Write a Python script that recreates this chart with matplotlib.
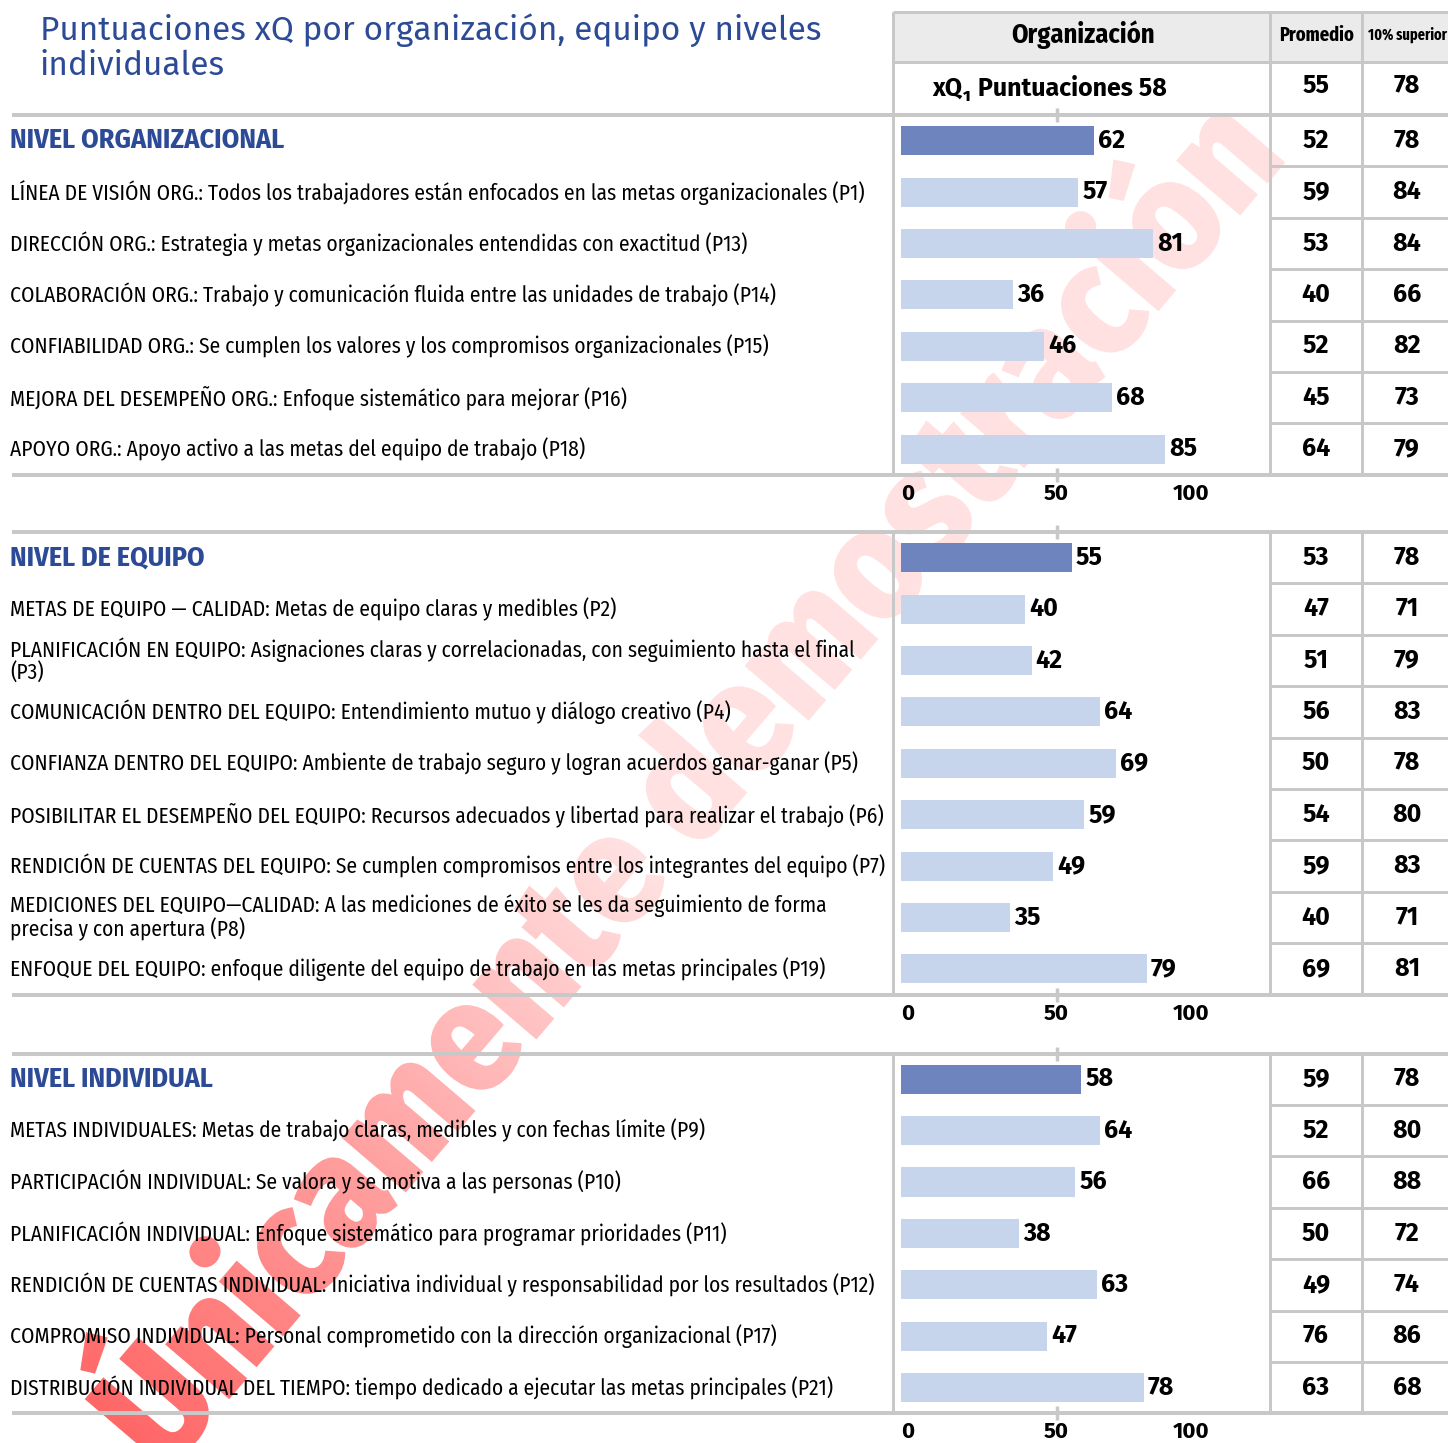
import numpy as np
import matplotlib
matplotlib.use("Agg")
import matplotlib.pyplot as plt
from matplotlib import font_manager as fm
from matplotlib.textpath import TextPath
from matplotlib.patches import PathPatch
from matplotlib.transforms import Affine2D

W, H = 1448, 1443

# ---- data ----
title = "Puntuaciones xQ por organización, equipo y niveles\nindividuales"
header_org = "Organización"
header_avg = "Promedio"
header_top = "10% superior"
overall_label = "xQ\u2081 Puntuaciones 58"
overall_avg = 55
overall_top = 78

org_labels = [
    "NIVEL ORGANIZACIONAL",
    "LÍNEA DE VISIÓN ORG.: Todos los trabajadores están enfocados en las metas organizacionales (P1)",
    "DIRECCIÓN ORG.: Estrategia y metas organizacionales entendidas con exactitud (P13)",
    "COLABORACIÓN ORG.: Trabajo y comunicación fluida entre las unidades de trabajo (P14)",
    "CONFIABILIDAD ORG.: Se cumplen los valores y los compromisos organizacionales (P15)",
    "MEJORA DEL DESEMPEÑO ORG.: Enfoque sistemático para mejorar (P16)",
    "APOYO ORG.: Apoyo activo a las metas del equipo de trabajo (P18)",
]
org_scores = [62, 57, 81, 36, 46, 68, 85]
org_avg = [52, 59, 53, 40, 52, 45, 64]
org_top = [78, 84, 84, 66, 82, 73, 79]

team_labels = [
    "NIVEL DE EQUIPO",
    "METAS DE EQUIPO — CALIDAD: Metas de equipo claras y medibles (P2)",
    "PLANIFICACIÓN EN EQUIPO: Asignaciones claras y correlacionadas, con seguimiento hasta el final\n(P3)",
    "COMUNICACIÓN DENTRO DEL EQUIPO: Entendimiento mutuo y diálogo creativo (P4)",
    "CONFIANZA DENTRO DEL EQUIPO: Ambiente de trabajo seguro y logran acuerdos ganar-ganar (P5)",
    "POSIBILITAR EL DESEMPEÑO DEL EQUIPO: Recursos adecuados y libertad para realizar el trabajo (P6)",
    "RENDICIÓN DE CUENTAS DEL EQUIPO: Se cumplen compromisos entre los integrantes del equipo (P7)",
    "MEDICIONES DEL EQUIPO—CALIDAD: A las mediciones de éxito se les da seguimiento de forma\nprecisa y con apertura (P8)",
    "ENFOQUE DEL EQUIPO: enfoque diligente del equipo de trabajo en las metas principales (P19)",
]
team_scores = [55, 40, 42, 64, 69, 59, 49, 35, 79]
team_avg = [53, 47, 51, 56, 50, 54, 59, 40, 69]
team_top = [78, 71, 79, 83, 78, 80, 83, 71, 81]

ind_labels = [
    "NIVEL INDIVIDUAL",
    "METAS INDIVIDUALES: Metas de trabajo claras, medibles y con fechas límite (P9)",
    "PARTICIPACIÓN INDIVIDUAL: Se valora y se motiva a las personas (P10)",
    "PLANIFICACIÓN INDIVIDUAL: Enfoque sistemático para programar prioridades (P11)",
    "RENDICIÓN DE CUENTAS INDIVIDUAL: Iniciativa individual y responsabilidad por los resultados (P12)",
    "COMPROMISO INDIVIDUAL: Personal comprometido con la dirección organizacional (P17)",
    "DISTRIBUCIÓN INDIVIDUAL DEL TIEMPO: tiempo dedicado a ejecutar las metas principales (P21)",
]
ind_scores = [58, 64, 56, 38, 63, 47, 78]
ind_avg = [59, 52, 66, 50, 49, 76, 63]
ind_top = [78, 80, 88, 72, 74, 86, 68]

axis_ticks = [0, 50, 100]
watermark = "Únicamente demostración"

# ---- style ----
BLUE_TXT = "#2c4a96"
DARK_BAR = "#6e84bf"
LIGHT_BAR = "#c6d5ec"
GRID = "#c8c8c8"
HEAD_BG = "#ebebeb"

avail = {f.name for f in fm.fontManager.ttflist}


def pick(cands):
    for c in cands:
        if c in avail:
            return c
    return "DejaVu Sans"


BODY = pick(["Fira Sans Condensed", "Archivo Narrow", "Roboto Condensed", "Liberation Sans Narrow"])
XCOND = pick(["Fira Sans Extra Condensed", "Barlow Condensed", "Roboto Condensed", "Archivo Narrow"])
MAIN = pick(["Fira Sans", "Open Sans", "Noto Sans"])

px = 72 / 100  # points per pixel

fig = plt.figure(figsize=(W / 100, H / 100), dpi=100)
bg = fig.add_axes([0, 0, 1, 1])
bg.axis("off")

# watermark: text outline filled with a red fade, behind everything
tp = TextPath((0, 0), watermark, size=100, prop=fm.FontProperties(family=BODY, weight="heavy"))
ext = tp.get_extents()
wm_len, wm_ang, wm_c = 1720, 49.5, (670, 768)
k = wm_len / ext.width
tr = (Affine2D().translate(-(ext.x0 + ext.x1) / 2, -(ext.y0 + ext.y1) / 2)
      .scale(k, -k).rotate_deg(-wm_ang).translate(*wm_c))
patch = PathPatch(tr.transform_path(tp), facecolor="none", edgecolor="none",
                  transform=bg.transData)
bg.add_patch(patch)
gx, gy = np.meshgrid(np.linspace(0, W, 362), np.linspace(0, H, 361))
ux, uy = np.cos(np.radians(wm_ang)), -np.sin(np.radians(wm_ang))
t = ((gx - wm_c[0]) * ux + (gy - wm_c[1]) * uy) / wm_len + 0.5
rgba = np.zeros(gx.shape + (4,))
rgba[..., 0] = 1.0
rgba[..., 3] = 0.6 - 0.48 * np.clip(t / 0.45, 0, 1)
im = bg.imshow(rgba, extent=[0, W, H, 0], origin="upper", aspect="auto",
               interpolation="bilinear", zorder=0.5)
im.set_clip_path(patch)
bg.set_xlim(0, W)
bg.set_ylim(H, 0)

bg.text(40, 47, title, ha="left", va="center", fontsize=24, color=BLUE_TXT,
        linespacing=1.1, family=MAIN)

# header block
bg.fill_between([893, 1448], 12, 62, color=HEAD_BG, zorder=1)
lw = 3 * px
bg.hlines([12, 62], 893, 1448, color=GRID, lw=lw, zorder=2)
bg.vlines([893, 1270, 1362], 12, 115, color=GRID, lw=lw, zorder=2)
bg.text(1083, 35, header_org, ha="center", va="center", fontsize=19, fontweight="bold", family=BODY)
bg.text(1317, 35, header_avg, ha="center", va="center", fontsize=14.5, fontweight="bold", family=XCOND)
bg.text(1407, 35, header_top, ha="center", va="center", fontsize=11.2, fontweight="bold", family=XCOND)
bg.text(1050, 88, overall_label, ha="center", va="center", fontsize=18, fontweight="bold", family=MAIN)
bg.text(1316, 86, str(overall_avg), ha="center", va="center", fontsize=18, fontweight="bold", family=MAIN)
bg.text(1407, 86, str(overall_top), ha="center", va="center", fontsize=18, fontweight="bold", family=MAIN)

pitch = 51.4
sec_tops = [115, 532, 1053.5]
x_left, x_zero, x_right, scale = 893, 901, 1270, 3.11
sections = [
    (org_labels, org_scores, org_avg, org_top),
    (team_labels, team_scores, team_avg, team_top),
    (ind_labels, ind_scores, ind_avg, ind_top),
]

for top, (labels, scores, avg, best) in zip(sec_tops, sections):
    n = len(labels)
    bottom = top + n * pitch
    bg.hlines([top, bottom], 12, 1448, color=GRID, lw=4 * px, zorder=2)
    bg.vlines([893, 1270, 1362], top, bottom, color=GRID, lw=lw, zorder=2)
    bounds = [top + k * pitch for k in range(1, n)]
    bg.hlines(bounds, 1270, 1448, color=GRID, lw=lw, zorder=2)

    for i, lab in enumerate(labels):
        yc = top + (i + 0.5) * pitch
        if i == 0:
            bg.text(10, yc, lab, ha="left", va="center", fontsize=20.2, fontweight="bold",
                    color=BLUE_TXT, family=BODY)
        else:
            bg.text(10, yc, lab, ha="left", va="center", fontsize=15.4, family=BODY,
                    linespacing=1.0)
        bg.text(1316, yc, str(avg[i]), ha="center", va="center", fontsize=18,
                fontweight="bold", family=MAIN)
        bg.text(1407, yc, str(best[i]), ha="center", va="center", fontsize=18,
                fontweight="bold", family=MAIN)

    ax = fig.add_axes([x_left / W, 1 - bottom / H, (x_right - x_left) / W, n * pitch / H])
    ax.set_facecolor("none")
    ax.set_xlim(-(x_zero - x_left) / scale, (x_right - x_zero) / scale)
    ax.set_ylim(n - 0.5, -0.5)
    colors = [DARK_BAR] + [LIGHT_BAR] * (n - 1)
    ax.barh(range(n), scores, height=0.565, color=colors, zorder=2)
    for i, v in enumerate(scores):
        ax.annotate(str(v), xy=(v, i), xytext=(4, 0), textcoords="offset pixels",
                    ha="left", va="center", fontsize=18, fontweight="bold", family=MAIN)
    for s in ax.spines.values():
        s.set_visible(False)
    ax.set_yticks([])
    ax.set_xticks([50])
    ax.tick_params(axis="x", top=True, bottom=True, direction="inout", length=10,
                   width=2.5, color=GRID, labelbottom=False)
    for tv, dx in zip(axis_ticks, [7, 0, -21]):
        ax.annotate(str(tv), xy=(tv, 0), xycoords=("data", "axes fraction"),
                    xytext=(dx, -19), textcoords="offset pixels",
                    ha="center", va="center", fontsize=16, fontweight="bold", family=MAIN)

fig.savefig("out.png", dpi=100)
